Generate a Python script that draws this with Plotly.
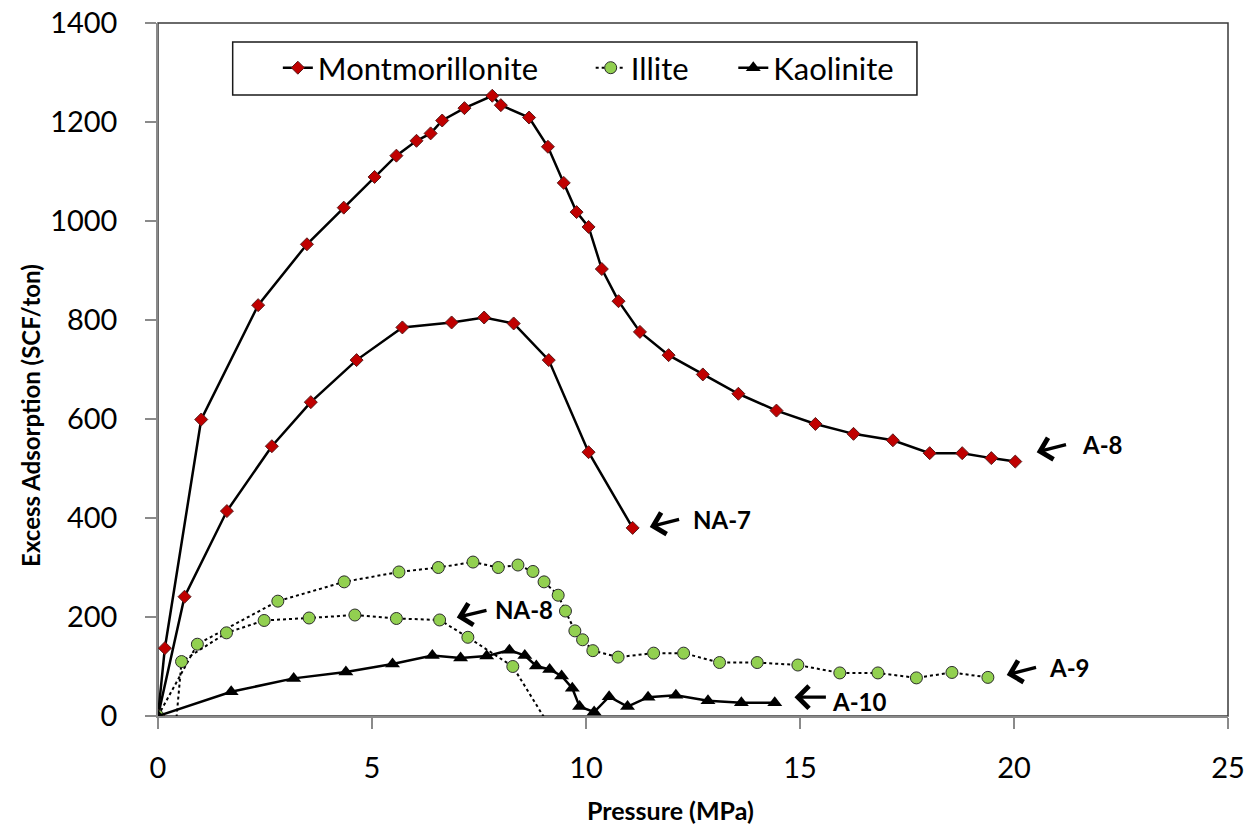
import plotly.graph_objects as go

# Montmorillonite, sample A-8
mont_a8_p = [0, 0.16, 1.01, 2.34, 3.48, 4.34, 5.06, 5.57, 6.04, 6.37, 6.64, 7.16, 7.81, 8.01,
             8.67, 9.11, 9.48, 9.78, 10.06, 10.37, 10.76, 11.26, 11.93, 12.73, 13.56, 14.45,
             15.36, 16.25, 17.17, 18.03, 18.79, 19.47, 20.03]
mont_a8_q = [0, 137, 599, 830, 953, 1027, 1089, 1132, 1162, 1177, 1203, 1228, 1253, 1234,
             1209, 1150, 1077, 1018, 988, 903, 838, 776, 729, 690, 651, 617,
             590, 570, 557, 531, 531, 521, 514]

# Montmorillonite, sample NA-7
mont_na7_p = [0, 0.62, 1.61, 2.66, 3.57, 4.64, 5.71, 6.86, 7.62, 8.31, 9.13, 10.06, 11.09]
mont_na7_q = [0, 241, 414, 545, 634, 719, 785, 795, 805, 793, 719, 533, 380]

# Illite, sample A-9
illite_a9_p = [0, 0.92, 2.80, 4.35, 5.63, 6.55, 7.36, 7.95, 8.41, 8.76, 9.02, 9.35, 9.52,
               9.74, 9.92, 10.16, 10.75, 11.58, 12.28, 13.12, 14.00, 14.95, 15.93, 16.82,
               17.72, 18.55, 19.39]
illite_a9_q = [0, 145, 232, 271, 291, 300, 311, 300, 305, 292, 271, 244, 212,
               172, 154, 132, 119, 127, 127, 108, 108, 103, 87, 87,
               77, 88, 78]

# Illite, sample NA-8
illite_na8_p = [0.42, 0.55, 1.60, 2.48, 3.53, 4.60, 5.57, 6.58, 7.24, 8.29, 9.15]
illite_na8_q = [-15, 110, 168, 193, 198, 204, 197, 194, 159, 100, -21]

# Kaolinite, sample A-10
kaol_a10_p = [0, 1.71, 3.17, 4.39, 5.48, 6.41, 7.07, 7.68, 8.21, 8.57, 8.84, 9.15, 9.43,
              9.68, 9.85, 10.19, 10.54, 10.97, 11.45, 12.10, 12.85, 13.63, 14.41]
kaol_a10_q = [0, 49, 76, 89, 105, 122, 117, 121, 133, 122, 101, 94, 81,
              56, 19, 8, 39, 19, 38, 42, 31, 27, 27]

# Sample labels: (label, arrow tip x, tip y, arrow tail x, tail y, text x, text y)
sample_labels = [
    ("A-8", 20.53, 533, 21.25, 549, 21.54, 549),
    ("NA-7", 11.49, 382, 12.21, 398, 12.45, 396),
    ("NA-8", 6.98, 199, 7.71, 214, 7.82, 215),
    ("A-9", 19.83, 83, 20.55, 99, 20.77, 97),
    ("A-10", 14.87, 38, 15.64, 38, 15.69, 30),
]

x_ticks = [0, 5, 10, 15, 20, 25]
y_ticks = [0, 200, 400, 600, 800, 1000, 1200, 1400]

RED = "#C00000"
GREEN = "#92D050"
FONT = "Lato, Open Sans, sans-serif"
TICK_FONT = dict(family=FONT, size=29, color="#000000")
PAD = "&nbsp;"

mont_marker = dict(symbol="diamond", size=10, color=RED, line=dict(color="#5a1a1a", width=1))
illite_marker = dict(symbol="circle", size=12, color=GREEN, line=dict(color="#2b2b2b", width=1))
kaol_marker = dict(symbol="triangle-up", size=13, color="#000000", line=dict(color="#000000", width=0))

fig = go.Figure()

fig.add_trace(go.Scatter(x=mont_a8_p, y=mont_a8_q, mode="lines+markers",
                         name="Montmorillonite" + PAD * 6,
                         line=dict(color="#000000", width=2.5), marker=mont_marker,
                         legendgroup="m", showlegend=True))
fig.add_trace(go.Scatter(x=mont_na7_p, y=mont_na7_q, mode="lines+markers", name="Montmorillonite",
                         line=dict(color="#000000", width=2.5), marker=mont_marker,
                         legendgroup="m", showlegend=False))
fig.add_trace(go.Scatter(x=illite_a9_p, y=illite_a9_q, mode="lines+markers",
                         name="Illite" + PAD * 5,
                         line=dict(color="#000000", width=2, dash="dot"), marker=illite_marker,
                         legendgroup="i", showlegend=True))
fig.add_trace(go.Scatter(x=illite_na8_p, y=illite_na8_q, mode="lines+markers", name="Illite",
                         line=dict(color="#000000", width=2, dash="dot"), marker=illite_marker,
                         legendgroup="i", showlegend=False))
fig.add_trace(go.Scatter(x=kaol_a10_p, y=kaol_a10_q, mode="lines+markers", name="Kaolinite",
                         line=dict(color="#000000", width=2.5), marker=kaol_marker,
                         legendgroup="k", showlegend=True))

annotations = []
for label, tx, ty, ax, ay, lx, ly in sample_labels:
    annotations.append(dict(x=tx, y=ty, ax=ax, ay=ay, xref="x", yref="y", axref="x", ayref="y",
                            text="", showarrow=True, arrowhead=4, arrowsize=1.3, arrowwidth=3.3,
                            arrowcolor="#000000", standoff=0, startstandoff=0))
    annotations.append(dict(x=lx, y=ly, xref="x", yref="y", text="<b>%s</b>" % label,
                            showarrow=False, xanchor="left", yanchor="middle",
                            font=dict(family=FONT, size=24, color="#000000")))

# Axis titles
annotations.append(dict(x=0.479, y=-0.136, xref="paper", yref="paper", text="<b>Pressure (MPa)</b>",
                        showarrow=False, xanchor="center", yanchor="middle",
                        font=dict(family=FONT, size=25, color="#000000")))
annotations.append(dict(x=-0.119, y=0.434, xref="paper", yref="paper",
                        text="<b>Excess Adsorption (SCF/ton)</b>", textangle=-90,
                        showarrow=False, xanchor="center", yanchor="middle",
                        font=dict(family=FONT, size=24, color="#000000")))

fig.update_layout(
    width=1257, height=829,
    margin=dict(l=158, r=29, t=23, b=113, autoexpand=False),
    paper_bgcolor="#FFFFFF", plot_bgcolor="#FFFFFF",
    showlegend=True,
    legend=dict(orientation="h", x=0.112, y=0.935, xanchor="left", yanchor="middle",
                bgcolor="rgba(0,0,0,0)", borderwidth=0,
                font=dict(family=FONT, size=31, color="#000000"),
                itemsizing="trace", tracegroupgap=0),
    annotations=annotations,
    shapes=[
        # plot-area frame
        dict(type="rect", xref="paper", yref="paper", x0=0, y0=0, x1=1, y1=1,
             line=dict(color="#3a3a3a", width=1.5), layer="below"),
        # legend frame
        dict(type="rect", xref="paper", yref="paper", x0=0.0698, y0=0.8961, x1=0.7093, y1=0.9726,
             line=dict(color="#1a1a1a", width=1.5), fillcolor="#FFFFFF", layer="below"),
    ],
)

fig.update_xaxes(range=[0, 25], tickvals=x_ticks, ticktext=[str(v) for v in x_ticks],
                 automargin=False,
                 showgrid=False, zeroline=False, showline=True, linecolor="#8a8a8a", linewidth=1.5,
                 ticks="outside", ticklen=11, tickwidth=1.5, tickcolor="#8a8a8a",
                 tickfont=TICK_FONT, ticklabelstandoff=14)
fig.update_yaxes(range=[0, 1400], tickvals=y_ticks, ticktext=[str(v) for v in y_ticks],
                 automargin=False,
                 showgrid=False, zeroline=False, showline=True, linecolor="#8a8a8a", linewidth=1.5,
                 ticks="outside", ticklen=11, tickwidth=1.5, tickcolor="#8a8a8a",
                 tickfont=TICK_FONT, ticklabelstandoff=22)

fig.write_html("out.html")
